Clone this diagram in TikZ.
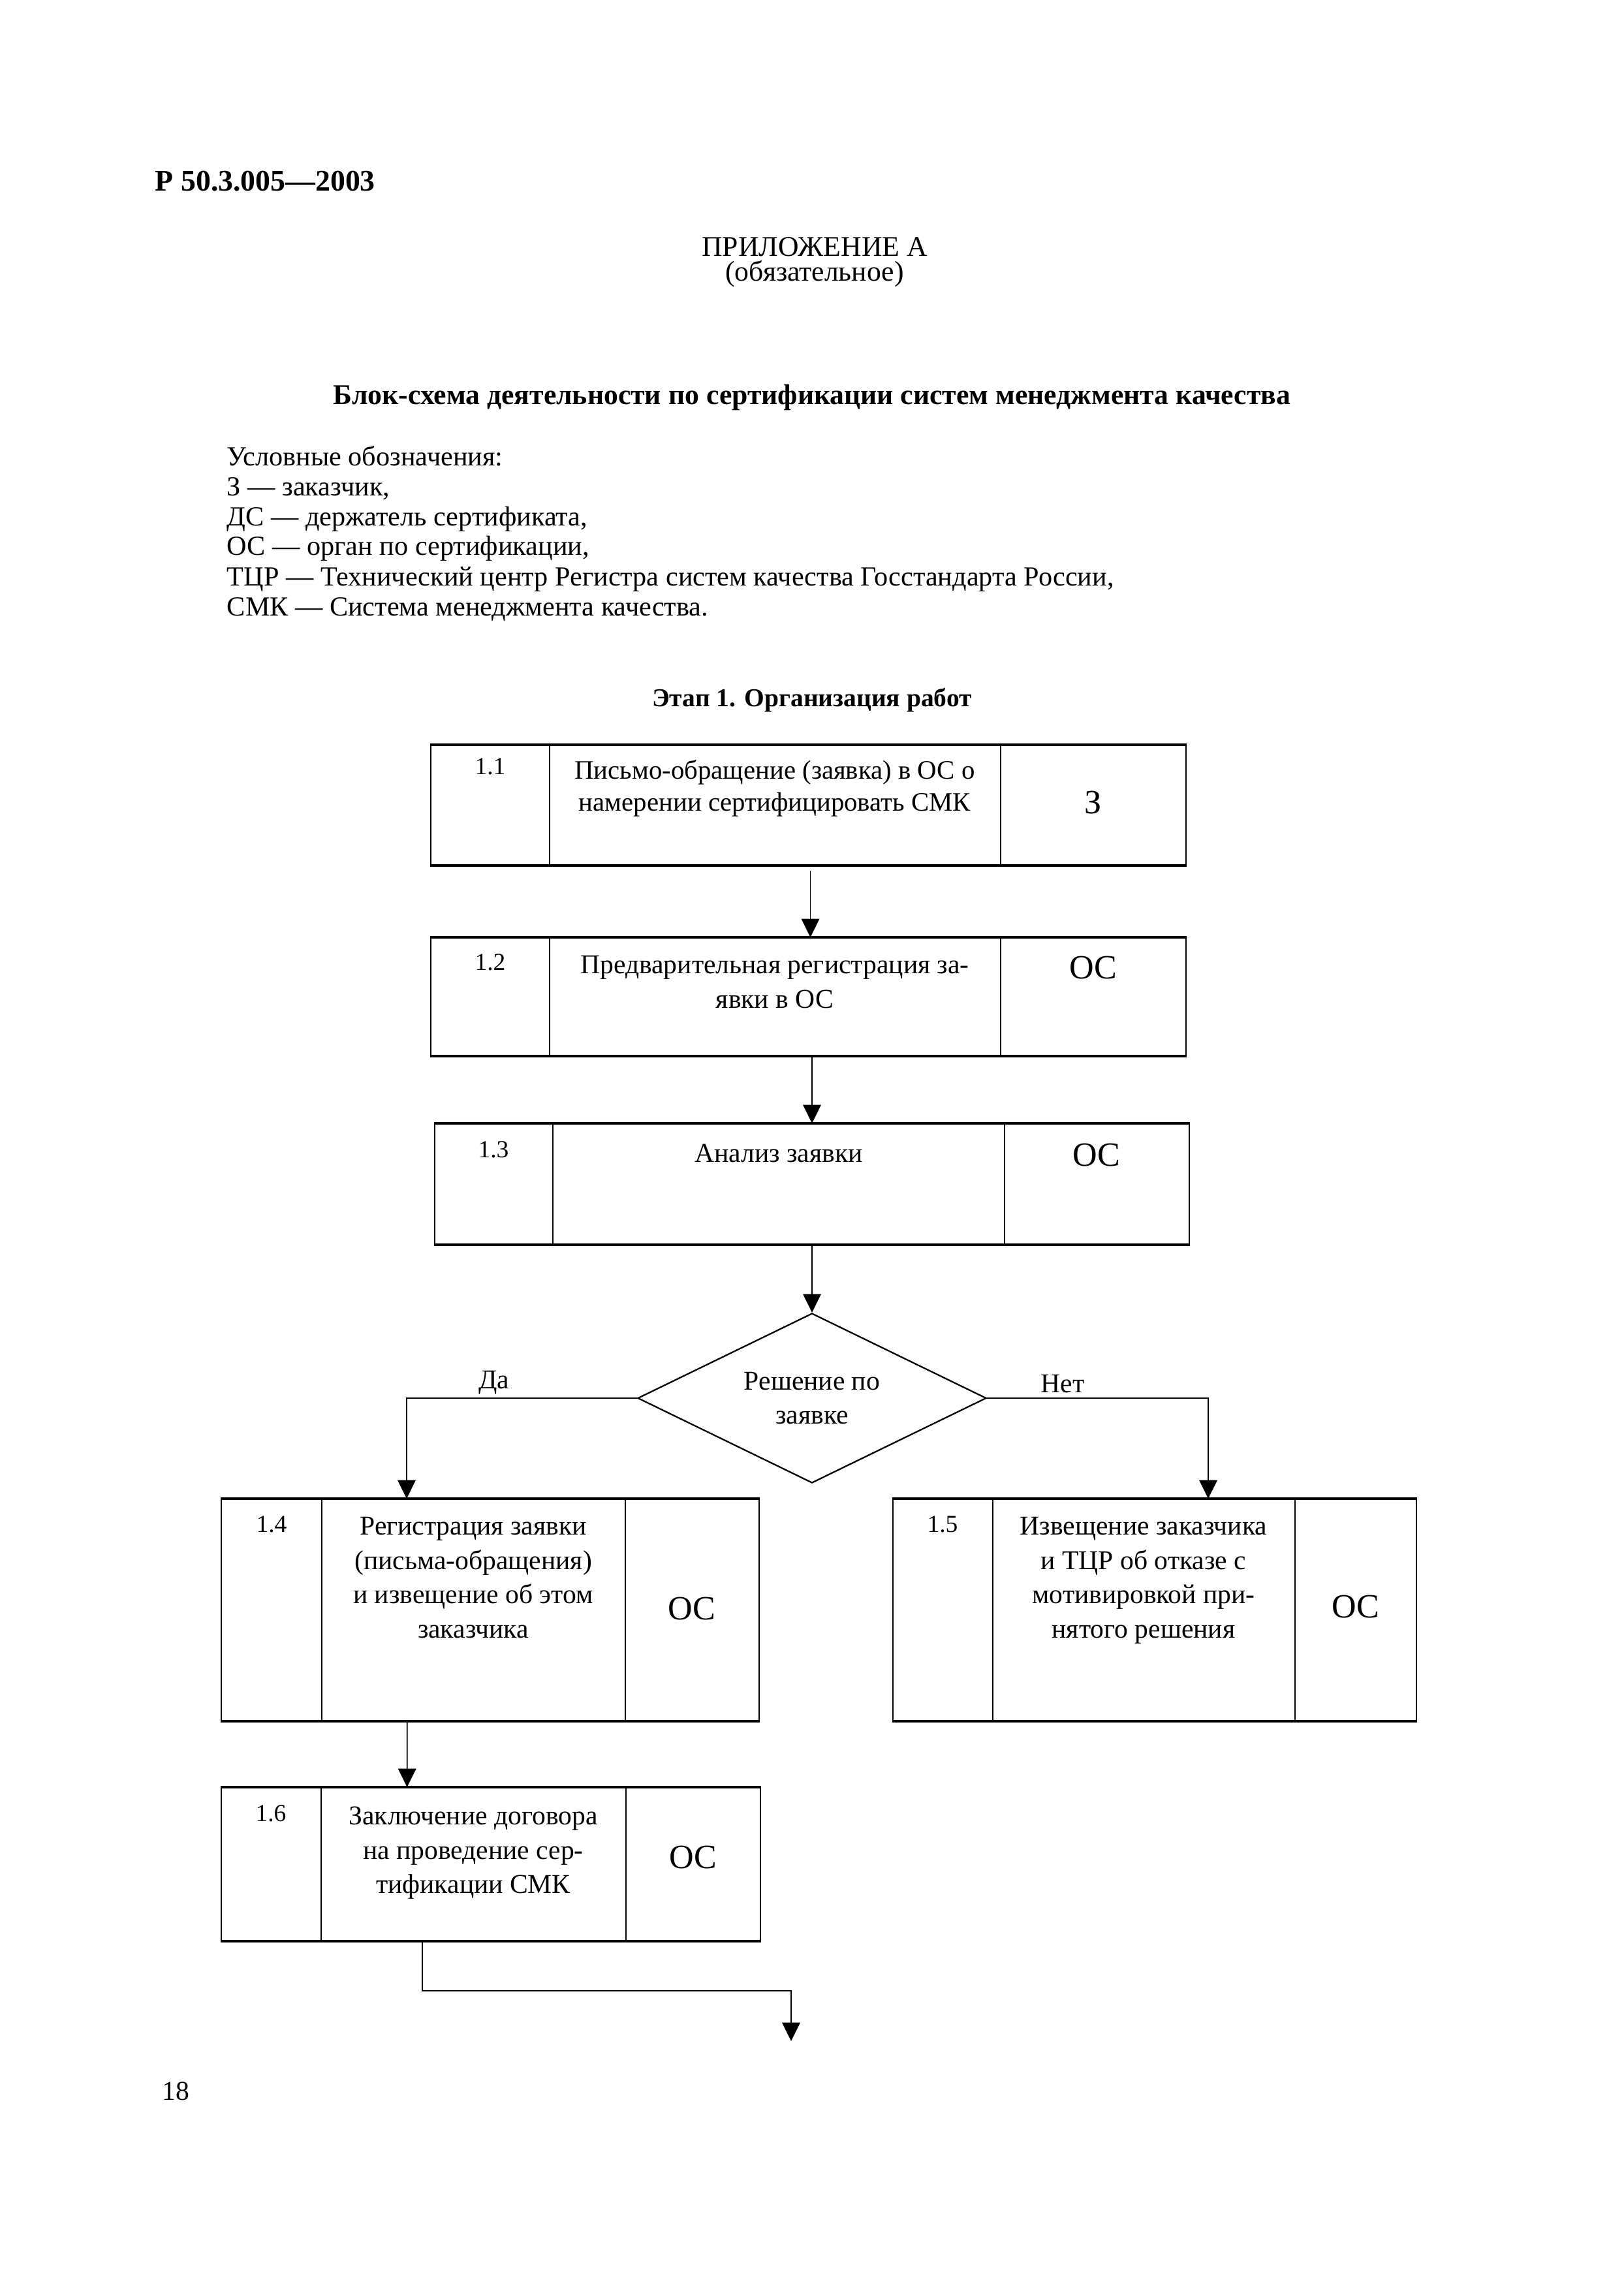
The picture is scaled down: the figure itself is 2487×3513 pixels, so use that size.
\documentclass[tikz,border=0pt]{standalone}
\usepackage{fontspec}
\setmainfont{Liberation Serif}
\usetikzlibrary{shapes.geometric,arrows.meta,calc}
\def\pxl{0.084439mm}
\begin{document}
\begin{tikzpicture}[x=0.084439mm,y=-0.084439mm,
  box/.style={draw,line width=0.5pt,inner sep=0pt},
  hline/.style={line width=0.75pt},
  div/.style={line width=0.45pt},
  con/.style={line width=0.45pt},
  arr/.style={con,-{Triangle[width=6.6pt,length=6.8pt]}},
  txt/.style={font=\fontsize{10}{12.6}\selectfont,align=center,inner sep=0pt,anchor=north},
  num/.style={font=\fontsize{9}{10}\selectfont,inner sep=0pt,anchor=base},
  role/.style={font=\fontsize{12.5}{14}\selectfont,inner sep=0pt,anchor=center},
  plain/.style={font=\fontsize{10.15}{11}\selectfont,inner sep=0pt,anchor=base west},
  lbl/.style={font=\fontsize{10}{11}\selectfont,inner sep=0pt,anchor=base}]

\useasboundingbox[fill=white] (0,0) rectangle (2487,3513);

% header
\node[font=\fontsize{11}{13}\selectfont\bfseries,inner sep=0pt,anchor=base west] (hdr) at (237,293) {Р 50.3.005—2003};
\node[font=\fontsize{10.5}{12}\selectfont,inner sep=0pt,anchor=base] (app) at (1248,393) {ПРИЛОЖЕНИЕ А};
\node[font=\fontsize{10.5}{12}\selectfont,inner sep=0pt,anchor=base] (oblig) at (1248,431) {(обязательное)};
\node[font=\fontsize{10.5}{12}\selectfont\bfseries,inner sep=0pt,anchor=base] (title) at (1244,620) {Блок-схема деятельности по сертификации систем менеджмента качества};

% legend
\node[plain] (lg0) at (347,714) {Условные обозначения:};
\node[plain] (lg1) at (347,760) {З — заказчик,};
\node[plain] (lg2) at (347,806) {ДС — держатель сертификата,};
\node[plain] (lg3) at (347,851) {ОС — орган по сертификации,};
\node[plain] (lg4) at (347,897) {ТЦР — Технический центр Регистра систем качества Госстандарта России,};
\node[plain] (lg5) at (347,943) {СМК — Система менеджмента качества.};

\node[font=\fontsize{9.5}{11}\selectfont\bfseries,inner sep=0pt,anchor=base] (stage) at (1244,1082) {Этап 1. Организация работ};

% box 1.1
\node[box,minimum width=1157*\pxl,minimum height=183*\pxl] (b11) at (1238.5,1233.5) {};
\draw[hline] (b11.north west) -- (b11.north east) (b11.south west) -- (b11.south east);
\draw[div] (842,1142) -- (842,1325);
\draw[div] (1533,1142) -- (1533,1325);
\node[num] (n11) at (751,1186) {1.1};
\node[txt,font=\fontsize{9.8}{11.8}\selectfont] (t11) at (1187,1158.6) {\strut Письмо-обращение (заявка) в ОС о\\намерении сертифицировать СМК};
\node[role] (r11) at (1675,1230) {З};

% box 1.2
\node[box,minimum width=1157*\pxl,minimum height=180*\pxl] (b12) at (1238.5,1527) {};
\draw[hline] (b12.north west) -- (b12.north east) (b12.south west) -- (b12.south east);
\draw[div] (842,1437) -- (842,1617);
\draw[div] (1533,1437) -- (1533,1617);
\node[num] (n12) at (751,1486) {1.2};
\node[txt] (t12) at (1187,1454.3) {\strut Предварительная регистрация за-\\явки в ОС};
\node[role] (r12) at (1675,1483) {ОС};

% box 1.3
\node[box,minimum width=1156*\pxl,minimum height=184*\pxl] (b13) at (1244,1814) {};
\draw[hline] (b13.north west) -- (b13.north east) (b13.south west) -- (b13.south east);
\draw[div] (847,1722) -- (847,1906);
\draw[div] (1539,1722) -- (1539,1906);
\node[num] (n13) at (756,1773) {1.3};
\node[lbl] (t13) at (1193,1780) {Анализ заявки};
\node[role] (r13) at (1680,1770) {ОС};

% decision
\node[draw,shape=diamond,line width=0.55pt,minimum width=534*\pxl,minimum height=260*\pxl,inner sep=0pt,aspect=2.05,font=\fontsize{10}{12.6}\selectfont,align=center] (dia) at (1244,2142) {Решение по\\заявке};
\node[lbl] (yes) at (757,2127) {Да};
\node[lbl] (no) at (1628,2133) {Нет};

% box 1.4
\node[box,minimum width=824*\pxl,minimum height=339*\pxl] (b14) at (751,2466.5) {};
\draw[hline] (b14.north west) -- (b14.north east) (b14.south west) -- (b14.south east);
\draw[div] (493,2297) -- (493,2636);
\draw[div] (958,2297) -- (958,2636);
\node[num] (n14) at (416,2347) {1.4};
\node[txt] (t14) at (725,2314.3) {\strut Регистрация заявки\\(письма-обращения)\\и извещение об этом\\заказчика};
\node[role] (r14) at (1060,2465) {ОС};

% box 1.5
\node[box,minimum width=802*\pxl,minimum height=339*\pxl] (b15) at (1769,2466.5) {};
\draw[hline] (b15.north west) -- (b15.north east) (b15.south west) -- (b15.south east);
\draw[div] (1521,2297) -- (1521,2636);
\draw[div] (1984,2297) -- (1984,2636);
\node[num] (n15) at (1444,2347) {1.5};
\node[txt] (t15) at (1752,2314.3) {\strut Извещение заказчика\\и ТЦР об отказе с\\мотивировкой при-\\нятого решения};
\node[role] (r15) at (2077,2462) {ОС};

% box 1.6
\node[box,minimum width=826*\pxl,minimum height=234*\pxl] (b16) at (752,2856) {};
\draw[hline] (b16.north west) -- (b16.north east) (b16.south west) -- (b16.south east);
\draw[div] (492,2739) -- (492,2973);
\draw[div] (959,2739) -- (959,2973);
\node[num] (n16) at (415,2790) {1.6};
\node[txt] (t16) at (725,2758.3) {\strut Заключение договора\\на проведение сер-\\тификации СМК};
\node[role] (r16) at (1062,2845) {ОС};

% connectors
\draw[arr,shorten <=2pt] ($(b11.south)+(3,0)$) -- ($(b12.north)+(3,0)$);
\draw[arr] (b12.south -| dia.north) -- (b13.north -| dia.north);
\draw[arr] (b13.south -| dia.north) -- (dia.north);
\draw[arr] (dia.west) -| ($(b14.north west)!0.345!(b14.north east)$);
\draw[arr] (dia.east) -| ($(b15.north west)!0.602!(b15.north east)$);
\draw[arr] ($(b14.south west)!0.346!(b14.south east)$) -- ($(b16.north west)!0.345!(b16.north east)$);
\coordinate (nxt) at (1212,3127);
\draw[arr] ($(b16.south west)!0.373!(b16.south east)$) |- ($(nxt)+(0,-77)$) -- (nxt);

% page number
\node[font=\fontsize{10}{11}\selectfont,inner sep=0pt,anchor=base west] (page) at (248,3217) {18};
\end{tikzpicture}
\end{document}
